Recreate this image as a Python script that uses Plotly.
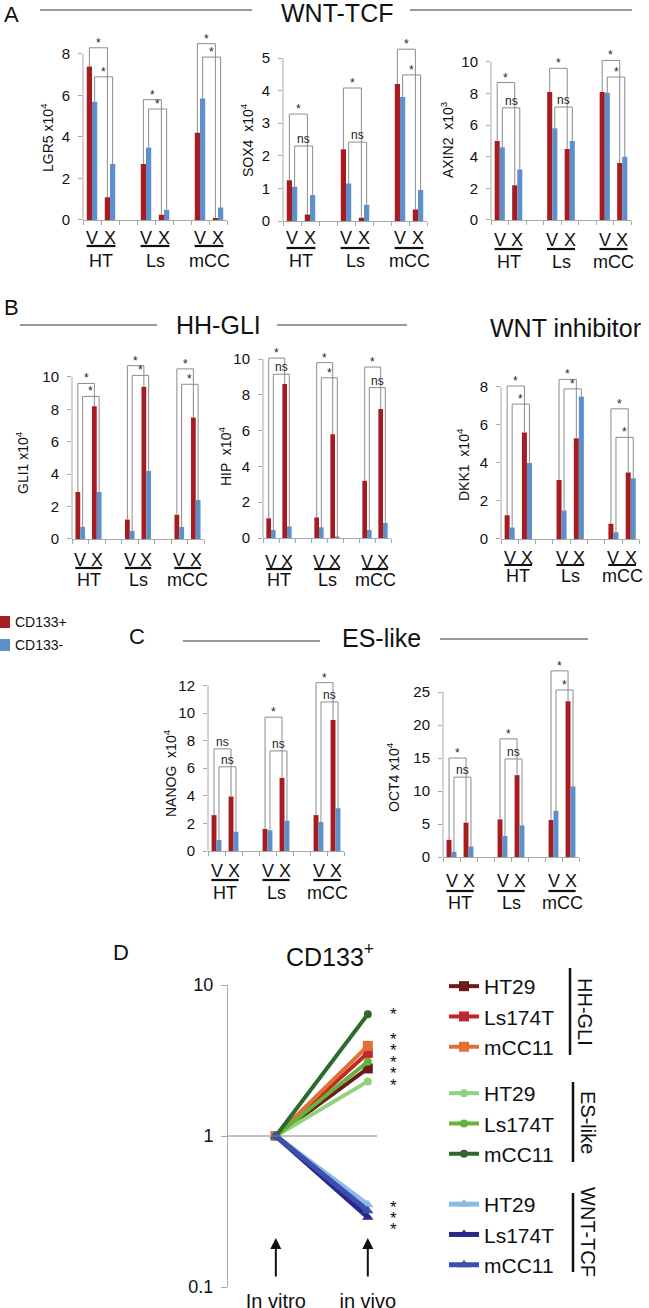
import plotly.graph_objects as go

# ---------------- data ----------------
cell_lines = ['HT', 'Ls', 'mCC']
conditions = ['V', 'X']
series_names = ['CD133+', 'CD133-']

# order: HT V, HT X, Ls V, Ls X, mCC V, mCC X
LGR5_pos = [7.4, 1.1, 2.7, 0.25, 4.2, 0.1]
LGR5_neg = [5.7, 2.7, 3.5, 0.5, 5.85, 0.6]
LGR5_sig = ['*', '*', '*', '*', '*', '*']

SOX4_pos = [1.25, 0.2, 2.2, 0.1, 4.2, 0.35]
SOX4_neg = [1.05, 0.8, 1.15, 0.5, 3.8, 0.95]
SOX4_sig = ['*', 'ns', '*', 'ns', '*', '*']

AXIN2_pos = [5.0, 2.2, 8.1, 4.5, 8.1, 3.6]
AXIN2_neg = [4.6, 3.2, 5.8, 5.0, 8.05, 4.0]
AXIN2_sig = ['*', 'ns', '*', 'ns', '*', '*']

GLI1_pos = [2.9, 8.2, 1.2, 9.4, 1.5, 7.5]
GLI1_neg = [0.75, 2.9, 0.5, 4.2, 0.75, 2.4]
GLI1_sig = ['*', '*', '*', '*', '*', '*']

HIP_pos = [1.1, 8.6, 1.15, 5.8, 3.2, 7.2]
HIP_neg = [0.45, 0.65, 0.6, 0.05, 0.45, 0.85]
HIP_sig = ['*', 'ns', '*', '*', '*', 'ns']

DKK1_pos = [1.25, 5.6, 3.1, 5.3, 0.8, 3.5]
DKK1_neg = [0.6, 4.0, 1.5, 7.5, 0.35, 3.2]
DKK1_sig = ['*', '*', '*', '*', '*', '*']

NANOG_pos = [2.6, 3.95, 1.6, 5.3, 2.6, 9.5]
NANOG_neg = [0.8, 1.4, 1.5, 2.2, 2.1, 3.1]
NANOG_sig = ['ns', 'ns', '*', 'ns', '*', 'ns']

OCT4_pos = [2.6, 5.2, 5.7, 12.4, 5.6, 23.6]
OCT4_neg = [0.8, 1.6, 3.2, 4.8, 7.0, 10.7]
OCT4_sig = ['*', 'ns', '*', 'ns', '*', '*']

# panel D
D_conditions = ['In vitro', 'in vivo']
D_groups = ['HH-GLI', 'ES-like', 'WNT-TCF']
D_lines = ['HT29', 'Ls174T', 'mCC11']
D_HH = [2.8, 3.55, 3.95]
D_ES = [2.3, 3.1, 6.4]
D_WNT = [0.35, 0.29, 0.32]

# ---------------- layout helpers ----------------
W, H = 649, 1308
def px(x): return x / W
def py(y): return 1 - y / H

RED = '#a61c21'
BLUE = '#5d8fcb'
GRAY = '#a8a8a8'
FONT = 'Liberation Sans, Arial, Helvetica, sans-serif'

# bracket heights (data units), per cell line: red bracket, blue bracket
panels = [
    dict(pos=LGR5_pos, neg=LGR5_neg, sig=LGR5_sig, brk=[8.3, 6.9, 5.8, 5.35, 8.5, 7.85],
         title='LGR5 x10<sup>4</sup>', tickmax=8, dtick=2,
         ax=83, cw=18, base=220, unit=20.75, lab=(47, 138), off=(18, 26, 41)),
    dict(pos=SOX4_pos, neg=SOX4_neg, sig=SOX4_sig, brk=[3.28, 2.3, 4.08, 2.42, 5.27, 4.48],
         title='SOX4  x10<sup>4</sup>', tickmax=5, dtick=1,
         ax=283, cw=18, base=221, unit=32.6, lab=(247, 140), off=(17, 27, 40)),
    dict(pos=AXIN2_pos, neg=AXIN2_neg, sig=AXIN2_sig, brk=[8.7, 7.1, 9.6, 7.15, 10.1, 9.05],
         title='AXIN2  x10<sup>3</sup>', tickmax=10, dtick=2,
         ax=491, cw=17.5, base=220, unit=15.8, lab=(447, 140), off=(20, 29, 42)),
    dict(pos=GLI1_pos, neg=GLI1_neg, sig=GLI1_sig, brk=[9.6, 8.8, 10.7, 10.1, 10.5, 9.55],
         title='GLI1 x10<sup>4</sup>', tickmax=10, dtick=2,
         ax=72, cw=16.5, base=539, unit=16.2, lab=(22, 463), off=(21, 29, 41)),
    dict(pos=HIP_pos, neg=HIP_neg, sig=HIP_sig, brk=[10.05, 9.15, 9.8, 8.95, 9.55, 8.4],
         title='HIP  x10<sup>4</sup>', tickmax=10, dtick=2,
         ax=263, cw=16, base=538, unit=17.9, lab=(225, 457), off=(24, 31, 42)),
    dict(pos=DKK1_pos, neg=DKK1_neg, sig=DKK1_sig, brk=[8.05, 7.1, 8.4, 7.9, 6.85, 5.35],
         title='DKK1  x10<sup>4</sup>', tickmax=8, dtick=2,
         ax=501, cw=17.3, base=539, unit=19.0, lab=(463, 465), off=(19, 26, 37)),
    dict(pos=NANOG_pos, neg=NANOG_neg, sig=NANOG_sig, brk=[7.4, 6.1, 9.7, 7.25, 12.2, 10.8],
         title='NANOG  x10<sup>4</sup>', tickmax=12, dtick=2,
         ax=208, cw=17, base=851, unit=13.8, lab=(170, 773), off=(20, 29, 42)),
    dict(pos=OCT4_pos, neg=OCT4_neg, sig=OCT4_sig, brk=[15.0, 12.1, 17.9, 14.85, 28.2, 25.3],
         title='OCT4 x10<sup>4</sup>', tickmax=25, dtick=5,
         ax=443, cw=17, base=857, unit=6.6, lab=(393, 777), off=(24, 34, 46)),
]

BARGAP = 0.42
G = 1 - BARGAP
ncat = 3 * len(cell_lines) - 1
positions = [3 * c + j for c in range(len(cell_lines)) for j in range(len(conditions))]

fig = go.Figure()
shapes = []
annots = []
layout_axes = {}


def ann(**kw):
    kw.setdefault('showarrow', False)
    kw.setdefault('xanchor', 'center')
    kw.setdefault('yanchor', 'middle')
    annots.append(kw)


for i, P in enumerate(panels):
    k = i + 1
    xa = 'x' if k == 1 else f'x{k}'
    ya = 'y' if k == 1 else f'y{k}'
    xname = 'xaxis' if k == 1 else f'xaxis{k}'
    yname = 'yaxis' if k == 1 else f'yaxis{k}'
    ytop = max(max(P['brk']), P['tickmax']) * 1.07
    x0p = P['ax']
    x1p = P['ax'] + ncat * P['cw']
    top_px = P['base'] - ytop * P['unit']
    layout_axes[xname] = dict(domain=[px(x0p), px(x1p)], range=[-0.5, ncat - 0.5], anchor=ya,
                              showline=True, linecolor=GRAY, linewidth=1, showgrid=False, zeroline=False,
                              tickmode='array', tickvals=[t - 0.5 for t in range(ncat + 1)],
                              ticks='outside', ticklen=4, tickcolor=GRAY, showticklabels=False)
    layout_axes[yname] = dict(domain=[py(P['base']), py(top_px)], range=[0, ytop], anchor=xa,
                              showline=False, showgrid=False, zeroline=False,
                              tickmode='array',
                              tickvals=[v * P['dtick'] for v in range(int(P['tickmax'] / P['dtick']) + 1)],
                              ticks='outside', ticklen=4, tickcolor=GRAY,
                              ticklabelstandoff=5,
                              tickfont=dict(size=15, color='#111', family=FONT))
    fig.add_trace(go.Bar(x=positions, y=P['pos'], name=series_names[0], marker_color=RED,
                         marker_line_width=0, xaxis=xa, yaxis=ya, showlegend=False))
    fig.add_trace(go.Bar(x=positions, y=P['neg'], name=series_names[1], marker_color=BLUE,
                         marker_line_width=0, xaxis=xa, yaxis=ya, showlegend=False))
    # y axis line up to the last tick
    shapes.append(dict(type='line', xref=f'{xa} domain', yref=ya, x0=0, x1=0, y0=0, y1=P['tickmax'],
                       line=dict(color=GRAY, width=1)))
    # y label
    ann(x=px(P['lab'][0]), y=py(P['lab'][1]), xref='paper', yref='paper',
        text=P['title'], textangle=-90, font=dict(size=14, family=FONT, color='#111'))
    # brackets
    for c in range(len(cell_lines)):
        p = 3 * c
        for s, (vals, off) in enumerate([(P['pos'], -G / 4), (P['neg'], G / 4)]):
            h = P['brk'][2 * c + s]
            bx0, bx1 = p + off, p + 1 + off
            by0, by1 = vals[2 * c], vals[2 * c + 1]
            shapes.append(dict(type='path', xref=xa, yref=ya,
                               path=f'M{bx0},{by0} L{bx0},{h} L{bx1},{h} L{bx1},{by1}',
                               line=dict(color='#8c8c8c', width=1)))
            lab = P['sig'][2 * c + s]
            ann(x=(bx0 + bx1) / 2, y=h, xref=xa, yref=ya, text=lab, yanchor='bottom',
                yshift=-4 if lab == '*' else -2,
                font=dict(size=12, family=FONT, color='#222'))
        # category labels
        vy = P['base'] + P['off'][0]
        uy = P['base'] + P['off'][1]
        ny = P['base'] + P['off'][2]
        for j, cond in enumerate(conditions):
            ann(x=p + j, y=py(vy), xref=xa, yref='paper', text=cond,
                font=dict(size=18, family=FONT, color='#111'))
        shapes.append(dict(type='line', xref=xa, yref='paper', x0=p - 0.3, x1=p + 1.3,
                           y0=py(uy), y1=py(uy), line=dict(color='#111', width=2.2)))
        ann(x=p + 0.5, y=py(ny), xref=xa, yref='paper', text=cell_lines[c],
            font=dict(size=18, family=FONT, color='#111'))

# ---------------- panel D ----------------
kD = len(panels) + 1
xD, yD = f'x{kD}', f'y{kD}'
layout_axes[f'xaxis{kD}'] = dict(domain=[px(228), px(377)], anchor=yD, type='category',
                                 categoryorder='array', categoryarray=D_conditions,
                                 range=[-0.52, 1.1], showline=False, showgrid=False, zeroline=False,
                                 ticks='', ticklabelstandoff=0,
                                 tickfont=dict(size=20, family=FONT, color='#111'))
layout_axes[f'yaxis{kD}'] = dict(domain=[py(1287), py(985)], anchor=xD, type='log', range=[-1, 1],
                                 tickmode='array', tickvals=[0.1, 1, 10], ticktext=['0.1', '1', '10'],
                                 showline=True, linecolor=GRAY, linewidth=1, showgrid=False,
                                 zeroline=False, ticks='outside', ticklen=6, tickcolor=GRAY,
                                 ticklabelstandoff=4,
                                 tickfont=dict(size=18, family=FONT, color='#111'))

D_colors = [['#6e1a1a', '#c0262c', '#e27036'],
            ['#92d27a', '#62b43a', '#2e6a2c'],
            ['#8dbbe6', '#28288a', '#3d4fae']]
D_symbols = ['square', 'circle', 'triangle-up']
D_sizes = [10, 8, 10]
D_values = [D_HH, D_ES, D_WNT]
legend_ids = ['legend', 'legend2', 'legend3']
for g in range(len(D_groups)):
    for l in range(len(D_lines)):
        fig.add_trace(go.Scatter(
            x=D_conditions, y=[1, D_values[g][l]], mode='lines+markers', name=D_lines[l],
            line=dict(color=D_colors[g][l], width=4 if g < 2 else 5),
            marker=dict(symbol=D_symbols[g], size=D_sizes[g], color=D_colors[g][l]),
            xaxis=xD, yaxis=yD, legend=legend_ids[g], legendgroup=D_groups[g]))

# horizontal reference line at 1
shapes.append(dict(type='line', xref=f'{xD} domain', yref=yD, x0=0, x1=1, y0=1, y1=1,
                   line=dict(color='#888', width=1)))
# arrows
for j in range(len(D_conditions)):
    annots.append(dict(x=j, y=py(1238), xref=xD, yref='paper', text='', showarrow=True,
                       ax=0, ay=40, arrowhead=2, arrowsize=1.1, arrowwidth=2, arrowcolor='#111'))
# stars
star_y = [[1010], [1035, 1046.5, 1058, 1069.5, 1081], [1203, 1214, 1225]]
for grp in star_y:
    for yy in grp:
        ann(x=px(393), y=py(yy), xref='paper', yref='paper', text='*',
            yshift=-4, font=dict(size=17, family=FONT, color='#111'))

# legend groups
leg_tops = [966, 1073, 1184]
for g, lid in enumerate(legend_ids):
    layout_axes[lid] = dict(x=px(444), y=py(leg_tops[g]), xanchor='left', yanchor='top',
                            bgcolor='rgba(0,0,0,0)', font=dict(size=21, family=FONT, color='#111'),
                            tracegroupgap=0, itemwidth=30)
group_bar = [(570, 968, 1055, 1012), (573, 1082, 1162, 1122), (573, 1193, 1272, 1232)]
for g, (xb, y0b, y1b, yc) in enumerate(group_bar):
    shapes.append(dict(type='line', xref='paper', yref='paper', x0=px(xb), x1=px(xb),
                       y0=py(y0b), y1=py(y1b), line=dict(color='#111', width=2.5)))
    ann(x=px(xb + 15), y=py(yc), xref='paper', yref='paper', text=D_groups[g],
        textangle=90, font=dict(size=20, family=FONT, color='#111'))

# ---------------- section headers ----------------
def header_line(x0, x1, y):
    shapes.append(dict(type='line', xref='paper', yref='paper', x0=px(x0), x1=px(x1),
                       y0=py(y), y1=py(y), line=dict(color='#333', width=1)))

def text_at(x, y, t, size, xanchor='center'):
    ann(x=px(x), y=py(y), xref='paper', yref='paper', text=t, xanchor=xanchor,
        font=dict(size=size, family=FONT, color='#111'))

header_line(40, 252, 10); header_line(410, 632, 10)
text_at(337, 13, 'WNT-TCF', 25)
header_line(20, 157, 325); header_line(277, 407, 325)
text_at(218, 325, 'HH-GLI', 25)
text_at(565, 328, 'WNT inhibitor', 25)
header_line(183, 320, 641); header_line(440, 588, 639)
text_at(381, 638, 'ES-like', 25)
text_at(330, 955, 'CD133<sup>+</sup>', 25)
for lab, (lx, ly) in zip(['A', 'B', 'C', 'D'], [(11, 14), (11, 307), (137, 636), (121, 952)]):
    text_at(lx, ly, lab, 22)

# CD133 legend for bar charts
for s, (col, yy) in enumerate([(RED, 622), (BLUE, 645)]):
    shapes.append(dict(type='rect', xref='paper', yref='paper', x0=px(0), x1=px(10),
                       y0=py(yy + 6), y1=py(yy - 6), fillcolor=col, line=dict(width=0)))
    text_at(13, yy, series_names[s], 14, xanchor='left')

fig.update_layout(width=W, height=H, margin=dict(l=0, r=0, t=0, b=0, autoexpand=False),
                  paper_bgcolor='white', plot_bgcolor='rgba(0,0,0,0)',
                  barmode='group', bargap=BARGAP, bargroupgap=0, hovermode=False,
                  shapes=shapes, annotations=annots, font=dict(family=FONT, color='#111'),
                  **layout_axes)

fig.write_html('out.html', config={'displayModeBar': False},
               post_script="document.body.style.margin='0';document.body.style.overflow='hidden';")
